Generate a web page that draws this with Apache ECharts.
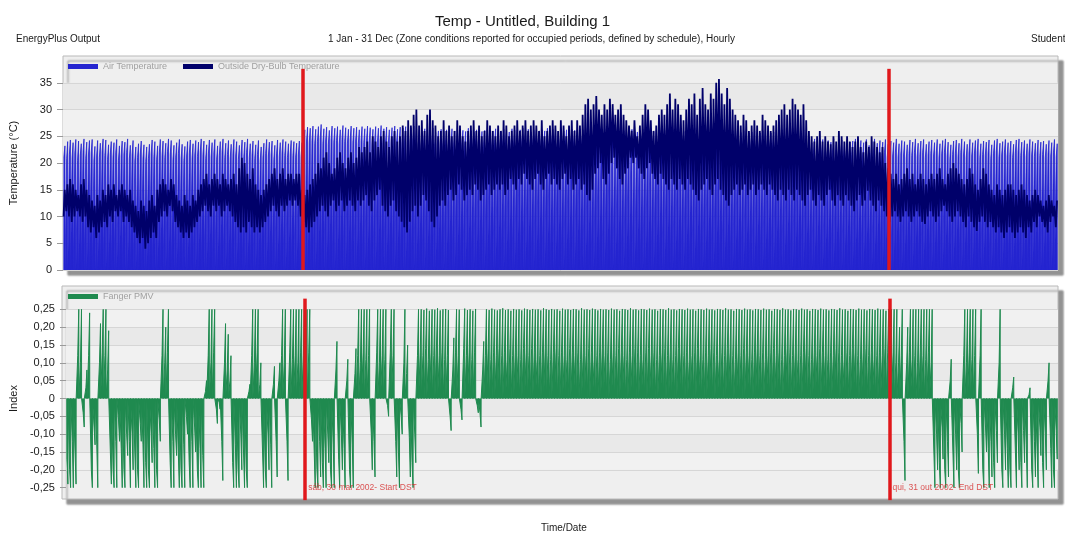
<!DOCTYPE html>
<html>
<head>
<meta charset="utf-8">
<script src="https://cdn.jsdelivr.net/npm/echarts@6/dist/echarts.min.js"></script>
<style>
  html, body { margin: 0; padding: 0; background: #ffffff; }
  #chart { width: 1065px; height: 533px; }
</style>
</head>
<body>
<div id="chart"></div>
<script>
// ---- Daily values, 1 Jan .. 31 Dec 2002 (one entry per day) ----

// Outside dry-bulb temperature, daily low / high (°C)
const outMin = [
  10,11,10,9,10,11,10,9,10,8,
  7,8,6,7,8,9,8,10,9,11,
  10,11,9,10,9,8,7,6,5,6,
  4,5,6,7,6,9,10,11,10,12,
  11,9,8,7,6,7,6,7,8,9,
  10,11,12,11,10,12,11,12,10,11,
  12,11,10,9,8,7,8,7,9,8,
  7,8,7,8,9,10,11,12,11,10,
  12,11,12,13,12,13,12,10,9,8,
  7,8,9,10,11,12,11,10,12,13,
  11,12,13,11,12,13,12,11,13,12,
  13,14,12,11,13,14,15,12,11,10,
  12,13,11,10,9,8,7,9,11,12,
  10,12,14,13,11,9,8,10,12,13,
  12,14,15,13,14,16,15,13,14,15,
  14,16,15,13,14,15,16,14,15,16,
  15,16,14,15,17,16,15,17,16,18,
  17,16,15,17,18,16,15,17,18,16,
  17,16,15,17,18,16,17,15,16,17,
  15,16,14,13,15,18,19,20,17,16,
  18,20,21,19,17,16,18,19,21,20,
  21,19,18,17,19,20,18,17,16,18,
  17,16,15,17,16,15,17,16,15,17,
  16,15,14,13,15,16,17,15,14,16,
  17,15,14,13,12,14,15,16,14,15,
  16,14,15,16,14,15,16,15,14,16,
  15,14,13,15,14,13,15,14,13,15,
  14,13,12,14,15,13,12,14,13,12,
  14,15,13,12,14,13,12,14,13,12,
  11,13,14,12,13,14.8,13,12,11,13,
  12,11,10,9,10,11,10,9,10,11,
  10,9,10,11,10,9,8.6,10,11,10,
  9,10,11,12,11,10,9,10,11,10,
  9,8,10,9,8,7.3,9,10,9,8,
  9,8,7,8,7,6,7,8,7,6,
  7,8,7,6,8,7,9,8,10,9,
  8,7,9,10,8
];
const outMax = [
  15,16,17,16,15,14,16,17,15,14,
  13,12,14,13,15,14,16,15,16,14,
  15,16,15,14,15,13,12,11,13,12,
  11,13,14,12,15,16,17,16,15,17,
  16,14,13,12,14,13,12,14,13,15,
  16,17,18,16,17,18,17,16,18,17,
  16,17,18,16,19,21,20,18,17,19,
  16,15,14,15,16,17,18,19,17,18,
  19,17,18,18,17,18,18,15,14,15,
  16,17,18,20,19,21,22,20,18,19,
  21,22,20,19,21,22,20,21,23,22,
  23,24,22,25,24,23,25,26,24,23,
  25,26,24,25,27,26,28,27,29,30,
  27,28,26,29,30,28,27,25,26,28,
  26,27,25,26,28,27,25,24,26,27,
  28,26,27,25,26,28,27,26,25,27,
  26,28,27,25,26,27,28,26,27,28,
  26,27,28,27,26,28,25,26,27,28,
  27,26,28,27,25,27,28,26,28,27,
  29,31,32,30,31,32.5,30,29,31,30,
  32,31,29,30,31,29,28,27,26,28,
  25,27,29,31,30,28,26,27,29,30,
  29,31,33,30,32,31,29,28,30,32,
  31,33,29,32,34,31,30,33,32,35,
  35.7,33,31,34,32,30,29,28,27,29,
  28,26,27,28,27,26,29,28,27,26,
  27,28,29,30,31,29,30,32,31,30,
  29,31,28,26,25,24,25,26,24,25,
  24,23.5,25,24,26,25,24,25,24,23,
  24,25,23,22,24,23,25,24,23,22,
  23,20,19,18,17,18,16,17,18,19,
  17,18,16,17,18,17,16,17,18,17,
  18,19,17,16,18,19,20,19,18,17,
  16,17,19,18,16,15,17,19,18,16,
  15,14,16,15,14,15,16,16,15,14,
  15,16,15,14,13,14,15,14,13,12,
  13,14,13,12,13
];

// Zone air temperature during the occupied period: at start and at peak (°C)
const airLow = [
  21.2,20.8,21.6,21.0,21.9,20.5,21.4,22.0,20.9,21.5,
  21.8,20.6,21.3,21.0,22.1,21.4,20.7,21.6,21.1,21.9,
  20.5,21.3,21.7,22.0,20.8,21.5,20.4,21.0,21.6,20.9,
  20.3,20.8,21.7,21.2,20.6,21.9,21.4,21.0,22.1,21.6,
  20.7,21.1,21.8,20.9,20.5,21.3,21.7,21.0,21.5,21.2,
  22.0,21.6,20.8,21.7,21.1,21.9,20.6,21.4,22.0,21.0,
  21.6,20.9,21.8,21.3,20.7,21.7,21.2,22.0,21.0,21.5,
  20.8,21.6,20.4,21.1,21.8,21.3,21.5,20.7,21.7,21.2,
  21.9,21.4,21.0,21.6,21.4,21.1,21.5,21.2,23.6,24.1,
  23.8,24.2,23.6,24.0,24.5,23.7,24.1,23.5,24.3,23.9,
  24.2,23.6,24.4,24.0,23.7,24.3,23.9,24.1,23.6,24.2,
  23.8,24.3,24.0,23.7,24.2,23.9,24.4,23.8,24.1,23.6,
  24.0,24.3,23.7,24.1,23.9,24.2,23.8,24.0,24.3,23.7,
  23.5,23.2,23.8,23.3,23.6,23.9,23.1,23.4,23.7,23.3,
  23.6,23.2,23.8,23.4,23.1,23.7,23.5,23.3,23.9,23.4,
  23.2,23.6,23.8,23.3,23.5,23.7,23.1,23.4,23.8,23.6,
  23.3,23.7,23.4,23.2,23.8,23.5,23.3,23.6,23.9,23.4,
  23.7,23.2,23.5,23.8,23.3,23.6,23.4,23.9,23.2,23.7,
  23.5,23.3,23.8,23.4,23.6,23.2,23.7,23.5,23.3,23.8,
  23.6,23.9,23.4,23.7,23.3,24.0,23.6,23.4,23.8,23.5,
  23.9,23.7,23.3,23.6,23.8,23.4,23.2,23.5,23.7,23.4,
  23.2,23.5,23.7,23.9,23.6,23.4,23.3,23.6,23.8,23.7,
  23.5,23.8,24.0,23.6,23.9,23.7,23.4,23.3,23.6,23.8,
  23.7,23.9,23.5,23.8,24.0,23.6,23.4,23.9,23.7,24.0,
  24.1,23.8,23.6,23.9,23.7,23.4,23.3,23.2,23.1,23.4,
  23.3,23.0,23.2,23.4,23.1,23.0,23.4,23.3,23.2,23.0,
  23.2,23.4,23.5,23.6,23.8,23.5,23.6,23.9,23.7,23.5,
  23.4,23.6,23.2,21.8,21.3,22.0,21.1,21.6,21.9,21.0,
  21.7,21.4,22.0,20.9,21.5,21.8,21.2,21.9,21.4,21.6,
  22.0,21.1,21.7,21.3,21.9,20.8,21.5,22.0,21.2,21.7,
  21.4,21.9,21.0,21.6,21.3,22.0,21.1,21.7,21.5,20.9,
  21.8,21.4,22.0,21.2,21.6,21.9,21.0,21.5,21.8,21.3,
  21.9,21.1,21.7,22.0,21.4,20.9,21.6,21.8,21.2,22.0,
  21.5,21.0,21.9,21.3,21.7,22.0,21.1,21.6,21.4,21.8,
  20.9,21.7,22.0,21.2,21.5,21.9,21.3,21.6,21.0,21.8,
  22.0,21.4,21.7,21.1,21.9,21.5,21.2,21.8,21.4,21.6,
  21.0,21.7,21.3,21.9,21.1
];
const airTop = [
  23.2,24.0,24.3,23.8,24.4,24.1,23.6,24.5,23.9,24.2,
  24.4,23.1,24.2,23.7,24.5,24.3,23.4,24.0,23.8,24.4,
  23.2,24.1,23.9,24.5,23.3,24.2,23.0,23.6,24.1,23.4,
  23.0,23.5,24.3,24.0,23.2,24.4,24.1,23.7,24.5,24.2,
  23.3,23.8,24.4,23.5,23.1,24.0,24.3,23.6,24.2,23.9,
  24.5,24.1,23.4,24.3,23.8,24.4,23.2,24.0,24.5,23.7,
  24.2,23.5,24.4,24.0,23.3,24.3,23.9,24.5,23.6,24.1,
  23.4,24.2,23.0,23.7,24.4,23.9,24.1,23.3,24.3,23.8,
  24.4,24.0,23.6,24.2,24.0,23.7,24.1,23.8,26.2,26.7,
  26.5,26.9,26.3,26.8,27.2,26.4,26.7,26.1,26.9,26.5,
  26.8,26.2,27.0,26.6,26.3,26.9,26.5,26.7,26.2,26.8,
  26.4,26.9,26.6,26.3,26.8,26.5,27.0,26.4,26.7,26.2,
  26.6,26.9,26.3,26.7,26.5,26.8,26.4,26.6,26.9,26.3,
  26.1,25.8,26.4,25.9,26.2,26.5,25.7,26.0,26.3,25.9,
  26.2,25.8,26.4,26.0,25.7,26.3,26.1,25.9,26.5,26.0,
  25.8,26.2,26.4,25.9,26.1,26.3,25.7,26.0,26.4,26.2,
  25.9,26.3,26.0,25.8,26.4,26.1,25.9,26.2,26.5,26.0,
  26.3,25.8,26.1,26.4,25.9,26.2,26.0,26.5,25.8,26.3,
  26.1,25.9,26.4,26.0,26.2,25.8,26.3,26.1,25.9,26.4,
  26.2,26.5,26.0,26.3,25.9,26.6,26.2,26.0,26.4,26.1,
  26.5,26.3,25.9,26.2,26.4,26.0,25.8,26.1,26.3,26.0,
  25.8,26.1,26.3,26.5,26.2,26.0,25.9,26.2,26.4,26.3,
  26.1,26.4,26.6,26.2,26.5,26.3,26.0,25.9,26.2,26.4,
  26.3,26.5,26.1,26.4,26.6,26.2,26.0,26.5,26.3,26.6,
  26.7,26.4,26.2,26.5,26.3,26.0,25.9,25.8,25.7,26.0,
  25.9,25.6,25.8,26.0,25.7,25.6,26.0,25.9,25.8,25.6,
  25.8,26.0,26.1,26.2,26.4,26.1,26.2,26.5,26.3,26.1,
  26.0,26.2,25.8,24.3,23.8,24.5,23.6,24.1,24.4,23.5,
  24.2,23.9,24.5,23.4,24.0,24.3,23.7,24.4,23.9,24.1,
  24.5,23.6,24.2,23.8,24.4,23.3,24.0,24.5,23.7,24.2,
  23.9,24.4,23.5,24.1,23.8,24.5,23.6,24.2,24.0,23.4,
  24.3,23.9,24.5,23.7,24.1,24.4,23.5,24.0,24.3,23.8,
  24.4,23.6,24.2,24.5,23.9,23.4,24.1,24.3,23.7,24.5,
  24.0,23.5,24.4,23.8,24.2,24.5,23.6,24.1,23.9,24.3,
  23.4,24.2,24.5,23.7,24.0,24.4,23.8,24.1,23.5,24.3,
  24.5,23.9,24.2,23.6,24.4,24.0,23.7,24.3,23.9,24.1,
  23.5,24.2,23.8,24.4,23.6
];

// Fanger PMV during the occupied period: at start and at extreme (index)
const pmvLow = [
  -0.17,-0.2,-0.12,-0.15,0.12,0.1,-0.04,0.03,0.12,-0.2,
  -0.08,-0.13,0.1,0.13,0.12,0.08,-0.15,-0.2,-0.12,-0.06,
  -0.14,-0.2,-0.1,-0.12,-0.1,-0.15,-0.2,-0.07,-0.13,-0.18,
  -0.2,-0.1,-0.14,-0.2,-0.06,0.12,0.1,0.13,-0.18,-0.12,
  -0.1,-0.15,-0.2,-0.13,-0.05,-0.18,-0.12,-0.08,-0.2,-0.14,
  -0.16,0.02,0.12,0.1,0.13,-0.03,-0.01,-0.12,0.1,0.08,
  0.05,-0.18,-0.13,-0.2,-0.1,-0.15,-0.2,0.02,0.12,0.1,
  0.13,0.04,-0.15,-0.2,-0.1,-0.13,0.04,-0.12,0.05,0.12,
  0.1,-0.12,0.13,0.11,0.12,0.1,0.13,0.12,0.11,0.13,
  -0.06,-0.15,-0.2,-0.12,-0.18,-0.14,-0.1,-0.2,-0.13,0.08,
  -0.17,-0.1,-0.14,0.05,-0.2,-0.13,0.07,0.12,0.1,0.13,
  0.11,0.12,-0.1,-0.12,0.13,0.1,0.12,0.11,-0.02,0.13,
  0.12,-0.12,-0.15,-0.05,0.1,0.07,-0.11,-0.18,-0.1,0.12,
  0.13,0.12,0.14,0.11,0.13,0.12,0.15,0.12,0.13,0.11,
  0.12,-0.05,0.08,0.13,0.12,-0.03,0.14,0.12,0.13,0.11,
  0.13,-0.02,-0.04,0.08,0.12,0.14,0.11,0.13,0.12,0.14,
  0.12,0.13,0.11,0.14,0.12,0.13,0.12,0.11,0.14,0.13,
  0.12,0.14,0.13,0.11,0.12,0.13,0.14,0.12,0.11,0.13,
  0.14,0.12,0.13,0.12,0.11,0.14,0.13,0.12,0.13,0.11,
  0.13,0.12,0.14,0.13,0.11,0.12,0.13,0.14,0.12,0.13,
  0.11,0.13,0.12,0.14,0.13,0.12,0.11,0.13,0.12,0.14,
  0.13,0.12,0.11,0.13,0.14,0.12,0.13,0.11,0.12,0.13,
  0.14,0.12,0.13,0.11,0.12,0.14,0.13,0.12,0.13,0.11,
  0.12,0.13,0.14,0.12,0.11,0.13,0.12,0.14,0.13,0.12,
  0.11,0.13,0.12,0.14,0.13,0.12,0.11,0.13,0.12,0.14,
  0.13,0.12,0.11,0.13,0.14,0.12,0.13,0.11,0.12,0.13,
  0.14,0.12,0.13,0.11,0.12,0.14,0.13,0.12,0.13,0.11,
  0.12,0.13,0.14,0.12,0.11,0.13,0.12,0.14,0.13,0.12,
  0.11,0.13,0.12,0.14,0.13,0.12,0.11,0.13,0.12,0.14,
  0.13,0.12,0.11,0.13,0.14,0.12,0.13,0.11,0.12,0.13,
  0.12,0.14,0.13,0.12,0.13,0.1,0.1,0.12,-0.12,0.1,
  0.13,0.11,0.12,0.1,0.13,0.12,0.11,0.13,0.1,-0.15,
  -0.1,-0.18,-0.08,-0.2,-0.12,0.05,-0.15,-0.1,-0.2,-0.07,
  0.12,0.1,0.13,0.11,0.12,-0.1,0.12,-0.2,-0.08,-0.14,
  -0.12,-0.18,-0.09,0.1,-0.2,-0.1,-0.14,-0.2,0.03,-0.15,
  -0.1,-0.18,-0.09,-0.13,0.01,-0.2,-0.12,-0.15,-0.08,-0.18,
  -0.1,0.05,-0.14,-0.2,-0.09
];
const pmvPeak = [
  -0.24,-0.25,-0.25,-0.24,0.25,0.25,-0.08,0.08,0.24,-0.25,
  -0.13,-0.25,0.21,0.25,0.25,0.19,-0.24,-0.25,-0.25,-0.12,
  -0.25,-0.25,-0.16,-0.25,-0.2,-0.25,-0.25,-0.12,-0.25,-0.25,
  -0.25,-0.18,-0.25,-0.25,-0.12,0.25,0.2,0.25,-0.25,-0.25,
  -0.16,-0.25,-0.25,-0.25,-0.1,-0.25,-0.25,-0.15,-0.25,-0.25,
  -0.25,0.05,0.25,0.25,0.25,-0.07,-0.03,-0.23,0.21,0.18,
  0.12,-0.25,-0.25,-0.25,-0.2,-0.25,-0.25,0.04,0.25,0.25,
  0.25,0.1,-0.25,-0.25,-0.2,-0.25,0.09,-0.22,0.1,0.25,
  0.25,-0.23,0.25,0.25,0.25,0.25,0.25,0.25,0.25,0.25,
  -0.12,-0.25,-0.25,-0.22,-0.25,-0.25,-0.18,-0.25,-0.25,0.16,
  -0.25,-0.2,-0.25,0.11,-0.25,-0.25,0.14,0.25,0.25,0.25,
  0.25,0.25,-0.2,-0.22,0.25,0.25,0.25,0.25,-0.05,0.25,
  0.25,-0.22,-0.25,-0.1,0.25,0.15,-0.22,-0.25,-0.18,0.25,
  0.25,0.248,0.252,0.246,0.25,0.249,0.253,0.247,0.25,0.251,
  0.248,-0.09,0.17,0.25,0.249,-0.06,0.252,0.248,0.25,0.246,
  0.251,-0.04,-0.08,0.16,0.25,0.248,0.252,0.249,0.247,0.25,
  0.253,0.248,0.25,0.246,0.251,0.249,0.25,0.247,0.252,0.25,
  0.248,0.251,0.249,0.25,0.247,0.253,0.25,0.248,0.251,0.249,
  0.25,0.246,0.252,0.249,0.25,0.248,0.251,0.25,0.247,0.253,
  0.249,0.25,0.248,0.252,0.25,0.247,0.251,0.249,0.25,0.248,
  0.252,0.249,0.25,0.246,0.251,0.25,0.248,0.253,0.249,0.25,
  0.247,0.251,0.25,0.248,0.252,0.249,0.25,0.246,0.251,0.25,
  0.248,0.253,0.249,0.25,0.247,0.251,0.25,0.248,0.252,0.249,
  0.25,0.246,0.251,0.25,0.248,0.252,0.249,0.25,0.247,0.251,
  0.25,0.248,0.253,0.249,0.25,0.246,0.251,0.25,0.248,0.252,
  0.249,0.25,0.247,0.251,0.25,0.248,0.252,0.249,0.25,0.246,
  0.251,0.25,0.248,0.253,0.249,0.25,0.247,0.251,0.25,0.248,
  0.252,0.249,0.25,0.246,0.251,0.25,0.248,0.252,0.249,0.25,
  0.247,0.251,0.25,0.248,0.253,0.249,0.25,0.246,0.251,0.25,
  0.248,0.252,0.249,0.25,0.247,0.251,0.25,0.248,0.252,0.249,
  0.25,0.246,0.251,0.25,0.25,0.25,0.2,0.25,-0.23,0.2,
  0.25,0.25,0.25,0.25,0.25,0.25,0.25,0.25,0.25,-0.25,
  -0.2,-0.25,-0.17,-0.25,-0.22,0.11,-0.25,-0.2,-0.25,-0.15,
  0.25,0.25,0.25,0.25,0.25,-0.21,0.25,-0.25,-0.15,-0.25,
  -0.22,-0.25,-0.18,0.25,-0.25,-0.2,-0.25,-0.25,0.06,-0.25,
  -0.2,-0.25,-0.18,-0.25,0.03,-0.25,-0.22,-0.25,-0.16,-0.25,
  -0.2,0.1,-0.25,-0.25,-0.17
];

// Daylight-saving markers (day of year, 0-based) and their notes
const dstDays = [88, 303];
const dstNotes = ['sáb, 30 mar 2002- Start DST', 'qui, 31 out 2002- End DST'];

// Axis tick labels
const tempTicks = [0, 5, 10, 15, 20, 25, 30, 35];
const pmvTicks = [-0.25, -0.2, -0.15, -0.1, -0.05, 0, 0.05, 0.1, 0.15, 0.2, 0.25];

// ---- Hourly series built from the daily values ----
const HOURS = 24;
const OCC_ON = 8, OCC_OFF = 17;   // occupied period (reported hours)
const OUT_LOW_H = 5, OUT_HIGH_H = 15;
const nDays = outMin.length;

const airSeries = [];
const outSeries = [];
const pmvSeries = [];
for (let d = 0; d < nDays; d++) {
  const h0 = d * HOURS;
  airSeries.push([h0 + OCC_ON - 1, 0], [h0 + OCC_ON, airLow[d]], [h0 + OCC_OFF, airTop[d]], [h0 + OCC_OFF + 1, 0]);
  outSeries.push([h0 + OUT_LOW_H, outMin[d]], [h0 + OUT_HIGH_H, outMax[d]]);
  pmvSeries.push([h0 + OCC_ON - 1, 0], [h0 + OCC_ON, pmvLow[d]], [h0 + OCC_OFF, pmvPeak[d]], [h0 + OCC_OFF + 1, 0]);
}
airSeries.push([nDays * HOURS, 0]);
pmvSeries.push([nDays * HOURS, 0]);

const dstHours = dstDays.map(d => d * HOURS);

const FONT = '"Liberation Sans", Arial, sans-serif';
const PANEL_BG = '#efefef';
const PANEL_BORDER = '#b9b9b9';
const GRID_LINE = '#d6d6d6';
const RED = '#e0181c';
const AIR = '#2525d0';
const OUT = '#00006a';
const PMV = '#1f8a4f';

function pmvLabel(v) {
  if (Math.abs(v) < 1e-9) return '0';
  return v.toFixed(2).replace('.', ',');
}
function isTick(list, v) {
  return list.some(t => Math.abs(t - v) < 1e-9);
}

const chart = echarts.init(document.getElementById('chart'), null, { renderer: 'canvas' });

chart.setOption({
  animation: false,
  backgroundColor: '#ffffff',
  textStyle: { fontFamily: FONT },
  title: [
    { text: 'Temp - Untitled, Building 1', left: 430, top: 9,
      textStyle: { fontSize: 15, fontWeight: 'normal', color: '#1a1a1a', fontFamily: FONT } },
    { text: '1 Jan - 31 Dec (Zone conditions reported for occupied periods, defined by schedule), Hourly', left: 323, top: 29,
      textStyle: { fontSize: 10, fontWeight: 'normal', color: '#1a1a1a', fontFamily: FONT } },
    { text: 'EnergyPlus Output', left: 11, top: 29,
      textStyle: { fontSize: 10, fontWeight: 'normal', color: '#1a1a1a', fontFamily: FONT } },
    { text: 'Student', left: 1026, top: 29,
      textStyle: { fontSize: 10, fontWeight: 'normal', color: '#1a1a1a', fontFamily: FONT } },
    { text: 'Time/Date', left: 536, top: 518,
      textStyle: { fontSize: 10, fontWeight: 'normal', color: '#1a1a1a', fontFamily: FONT } }
  ],
  graphic: [
    // frame of the PMV panel (its value grid is slightly taller than the frame)
    { type: 'rect', z: -10, silent: true,
      shape: { x: 62, y: 286, width: 996, height: 213 },
      style: { fill: PANEL_BG, stroke: PANEL_BORDER, lineWidth: 1,
               shadowColor: 'rgba(0,0,0,0.42)', shadowBlur: 2, shadowOffsetX: 5, shadowOffsetY: 5 } }
  ],
  legend: [
    { left: 63, top: 57, orient: 'horizontal', icon: 'rect', itemWidth: 30, itemHeight: 5, itemGap: 16,
      data: ['Air Temperature', 'Outside Dry-Bulb Temperature'],
      textStyle: { color: '#a0a0a0', fontSize: 9, fontFamily: FONT }, selectedMode: false },
    { left: 63, top: 287, orient: 'horizontal', icon: 'rect', itemWidth: 30, itemHeight: 5,
      data: ['Fanger PMV'],
      textStyle: { color: '#a0a0a0', fontSize: 9, fontFamily: FONT }, selectedMode: false }
  ],
  grid: [
    { left: 62, top: 56, width: 996, height: 214, show: true,
      backgroundColor: PANEL_BG, borderColor: PANEL_BORDER, borderWidth: 1,
      shadowColor: 'rgba(0,0,0,0.42)', shadowBlur: 2, shadowOffsetX: 5, shadowOffsetY: 5 },
    { left: 62, top: 291.5, width: 996, height: 214, show: false }
  ],
  xAxis: [
    { type: 'value', gridIndex: 0, min: 0, max: nDays * HOURS, show: false },
    { type: 'value', gridIndex: 1, min: 0, max: nDays * HOURS, show: false }
  ],
  yAxis: [
    { type: 'value', gridIndex: 0, min: 0, max: 40, interval: 5,
      name: 'Temperature (°C)', nameLocation: 'middle', nameGap: 44, nameRotate: 90,
      nameTextStyle: { fontSize: 11, color: '#1a1a1a', fontFamily: FONT },
      axisLine: { show: false },
      axisTick: { show: true, length: 6, customValues: tempTicks, lineStyle: { color: '#9a9a9a' } },
      axisLabel: { customValues: tempTicks, margin: 11, fontSize: 11, color: '#1a1a1a', fontFamily: FONT,
        formatter: v => isTick(tempTicks, v) ? String(v) : '' },
      splitLine: { show: true, lineStyle: { color: GRID_LINE, width: 1 } },
      splitArea: { show: true, areaStyle: { color: ['#e9e9e9', '#f1f1f1'] } }
    },
    { type: 'value', gridIndex: 1, min: -0.3, max: 0.3, interval: 0.05,
      name: 'Index', nameLocation: 'middle', nameGap: 44, nameRotate: 90,
      nameTextStyle: { fontSize: 11, color: '#1a1a1a', fontFamily: FONT },
      axisLine: { show: false },
      axisTick: { show: true, length: 6, customValues: pmvTicks, lineStyle: { color: '#9a9a9a' } },
      axisLabel: { customValues: pmvTicks, margin: 11, fontSize: 11, color: '#1a1a1a', fontFamily: FONT,
        formatter: v => isTick(pmvTicks, v) ? pmvLabel(v) : '' },
      splitLine: { show: true, lineStyle: { color: ['transparent', GRID_LINE, GRID_LINE, GRID_LINE, GRID_LINE, GRID_LINE,
        GRID_LINE, GRID_LINE, GRID_LINE, GRID_LINE, GRID_LINE, GRID_LINE, 'transparent'], width: 1 } },
      splitArea: { show: true, areaStyle: { color: ['transparent', '#f1f1f1', '#e9e9e9', '#f1f1f1', '#e9e9e9', '#f1f1f1',
        '#e9e9e9', '#f1f1f1', '#e9e9e9', '#f1f1f1', '#e9e9e9', '#f2f2f2'] } }
    }
  ],
  series: [
    { name: 'Air Temperature', type: 'line', xAxisIndex: 0, yAxisIndex: 0,
      data: airSeries, showSymbol: false, symbol: 'none', z: 2,
      itemStyle: { color: AIR }, lineStyle: { color: AIR, width: 0.8 },
      areaStyle: { color: AIR, opacity: 1 } },
    { name: 'Outside Dry-Bulb Temperature', type: 'line', xAxisIndex: 0, yAxisIndex: 0,
      data: outSeries, showSymbol: false, symbol: 'none', z: 3,
      itemStyle: { color: OUT }, lineStyle: { color: OUT, width: 1.8 },
      markLine: { silent: true, symbol: 'none', label: { show: false }, z: 6,
        lineStyle: { color: RED, width: 3.5, type: 'solid' },
        data: dstHours.map(h => [{ coord: [h, 0] }, { coord: [h, 37.6] }]) } },
    { name: 'Fanger PMV', type: 'line', xAxisIndex: 1, yAxisIndex: 1,
      data: pmvSeries, showSymbol: false, symbol: 'none', z: 2,
      itemStyle: { color: PMV }, lineStyle: { color: PMV, width: 1 },
      areaStyle: { color: PMV, opacity: 1 },
      markLine: { silent: true, symbol: 'none', label: { show: false }, z: 6,
        lineStyle: { color: RED, width: 3.5, type: 'solid' },
        data: dstHours.map(h => [{ coord: [h, -0.285] }, { coord: [h, 0.28] }]) } },
    { name: 'DST', type: 'scatter', xAxisIndex: 1, yAxisIndex: 1, symbolSize: 0, z: 7, silent: true,
      data: dstHours.map((h, i) => ({ value: [h, pmvTicks[0]], note: dstNotes[i] })),
      label: { show: true, position: 'right', distance: 3, fontSize: 8.5, color: '#d42a2a', fontFamily: FONT,
        formatter: p => p.data.note } }
  ]
});
</script>
</body>
</html>
